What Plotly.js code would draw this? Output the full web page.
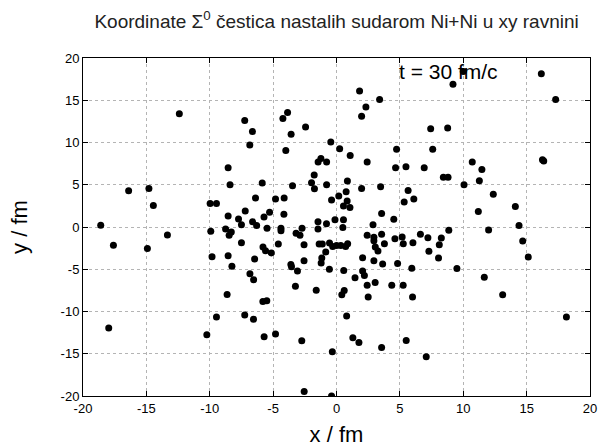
<!DOCTYPE html>
<html>
<head>
<meta charset="utf-8">
<script src="https://cdn.plot.ly/plotly-3.0.1.min.js"></script>
<style>html,body{margin:0;padding:0;background:#fff;}#chart{width:600px;height:447px;}</style>
</head>
<body>
<div id="chart"></div>
<script>
const xVals = [
 -18.6,-16.4,-14.8,-14.45,-12.4,-9.97,-9.47,-8.55,-8.4,-8.55,-7.73,-7.5,-7.2,-7.24,-6.63,-6.84,-6.62,-6.3,-6.39,-5.86,
 -5.72,-5.28,-5.48,-4.81,-4.13,-4.15,-4.23,-3.86,-3.58,-4.0,-3.47,-2.44,-1.76,-1.97,-1.74,-1.45,-1.23,-0.78,-0.78,-0.45,
 -0.39,0.25,0.18,-1.46,-0.79,-0.12,
 1.08,2.42,1.82,3.4,2.32,1.98,4.74,4.66,5.48,6.92,7.43,8.77,7.59,8.43,8.8,9.19,10.0,16.16,17.29,16.25,
 16.35,10.71,11.47,11.27,10.06,12.37,11.19,14.11,14.4,12.0,8.86,0.76,0.86,0.84,0.55,1.06,1.98,3.48,3.56,4.52,
 2.88,5.65,5.34,6.1,0.55,0.5,
 -17.6,-17.97,-14.92,-13.34,-9.92,-9.82,-8.75,-8.47,-8.3,-8.55,-8.25,-8.63,-9.47,-10.23,-7.5,-6.46,-5.8,-5.6,-5.14,-6.83,
 -6.54,-5.81,-5.5,-7.24,-6.55,-5.71,-4.81,-4.59,-4.38,-4.38,-3.6,-3.55,-3.08,-3.24,-2.56,-2.56,-2.72,-3.19,-2.88,-2.74,
 -2.55,-1.6,-1.46,-1.37,-1.12,-0.55,-0.3,0.0,0.34,0.72,0.88,-0.85,-1.16,-1.21,-0.56,-0.33,-0.39,
 0.57,0.42,0.61,0.8,1.29,1.77,3.56,2.42,2.95,2.95,3.56,3.78,3.06,3.27,2.06,2.95,3.64,2.06,2.2,1.46,
 2.42,3.05,2.5,4.36,5.26,6.0,4.82,5.94,4.61,5.18,5.27,6.03,6.62,7.21,7.29,8.27,8.11,8.05,9.5,5.5,
 7.08,14.69,15.13,11.66,13.11,18.14
];
const yVals = [
 0.2,4.3,4.55,2.55,13.4,2.78,2.78,7.0,5.0,1.3,0.95,0.26,1.9,12.6,11.3,9.7,0.62,0.18,3.42,5.2,
 1.17,1.75,-0.16,3.3,3.42,1.5,12.83,13.54,10.97,9.05,4.87,11.84,6.14,5.23,4.53,7.7,8.12,7.7,4.99,10.06,
 3.2,9.27,3.66,0.62,0.38,0.85,
 8.46,7.68,16.1,15.08,14.2,13.1,9.2,7.0,7.13,7.0,11.64,11.72,9.2,5.9,5.9,16.9,18.4,18.14,15.08,7.95,
 7.8,7.68,6.81,5.46,5.0,3.88,1.83,2.42,0.18,-0.35,-0.37,4.18,5.44,3.07,2.5,2.3,4.55,4.77,1.6,0.93,
 0.26,4.32,2.97,3.31,0.85,-0.05,
 -2.17,-11.95,-2.53,-0.95,-0.51,-3.52,-0.23,-0.97,-0.6,-3.4,-4.65,-8.0,-10.64,-12.74,-1.86,-3.8,-2.38,-2.8,-3.07,-5.54,
 -6.23,-8.82,-8.72,-10.4,-10.92,-12.98,-12.66,-2.0,-0.16,-0.45,-4.43,-4.69,-5.22,-7.02,-2.09,-3.98,-0.16,-0.73,-0.97,-13.46,
 -19.48,-7.48,-0.25,-2.0,-2.0,-1.9,-2.3,-2.18,-2.2,-2.3,-1.98,-2.95,-3.68,-4.25,-5.0,-14.76,-20.0,
 -5.14,-8.03,-7.5,-10.53,-13.1,-13.66,-14.25,-0.97,-1.2,-1.64,-0.85,-1.98,-2.36,-2.85,-3.64,-3.98,-4.39,-5.22,-5.74,-6.01,
 -6.88,-6.57,-8.27,-6.88,-6.88,-8.27,-4.31,-4.89,-1.38,-1.17,-1.98,-1.86,-0.85,-1.28,-2.87,-1.31,-2.09,-3.68,-4.9,-13.42,
 -15.36,-1.66,-3.56,-5.94,-8.03,-10.64
];
const tickVals = [-20,-15,-10,-5,0,5,10,15,20];
const titleText = 'Koordinate Σ<sup>0</sup> čestica nastalih sudarom Ni+Ni u xy ravnini';
const xTitle = 'x / fm';
const yTitle = 'y / fm';
const timeLabel = 't = 30 fm/c';

const font = 'Liberation Sans, Arial, sans-serif';
const axisCommon = {
  tickvals: tickVals,
  ticktext: tickVals.map(String),
  ticks: 'inside', ticklen: 5, tickcolor: '#000', tickwidth: 1,
  showline: true, linecolor: '#000', linewidth: 1, mirror: 'ticks',
  showgrid: true, gridcolor: '#b4b4b4', griddash: 'dot', gridwidth: 1,
  zeroline: false,
  tickfont: {family: font, size: 13, color: '#000'},
  fixedrange: true
};

const trace = {
  x: xVals, y: yVals, type: 'scatter', mode: 'markers',
  marker: {symbol: 'circle', size: 7, color: '#000', line: {width: 0}},
  hoverinfo: 'skip', cliponaxis: true
};

const layout = {
  width: 600, height: 447,
  margin: {l: 83, r: 10, t: 58, b: 51, pad: 0},
  paper_bgcolor: '#fff', plot_bgcolor: '#fff',
  showlegend: false,
  title: {text: titleText, font: {family: font, size: 19, color: '#222'}, x: 0.561, xanchor: 'center', y: 0.952, yanchor: 'middle'},
  xaxis: Object.assign({}, axisCommon, {range: [-20, 20],
    title: {text: xTitle, font: {family: font, size: 22, color: '#000'}, standoff: 12}}),
  yaxis: Object.assign({}, axisCommon, {range: [-20, 20],
    title: {text: yTitle, font: {family: font, size: 22, color: '#000'}, standoff: 26}}),
  annotations: [{
    text: timeLabel, xref: 'x', yref: 'y', x: 8.8, y: 18.4,
    showarrow: false, font: {family: font, size: 21, color: '#000'},
    xanchor: 'center', yanchor: 'middle'
  }]
};

Plotly.newPlot('chart', [trace], layout, {staticPlot: true, displayModeBar: false});
</script>
</body>
</html>
